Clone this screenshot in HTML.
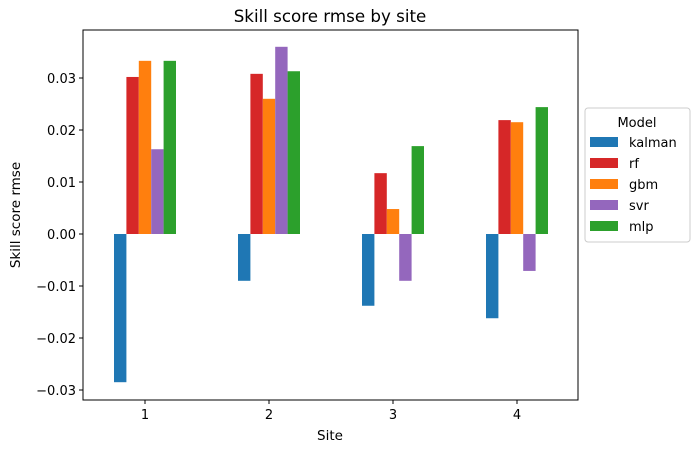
<!DOCTYPE html>
<html><head><meta charset="utf-8"><style>
body{margin:0;background:#fff;font-family:"Liberation Sans","DejaVu Sans",sans-serif}
</style></head><body>
<svg id="c" width="696" height="453" xmlns="http://www.w3.org/2000/svg" font-family="DejaVu Sans, Liberation Sans, sans-serif">
<text x="330" y="22" text-anchor="middle" font-size="16.7">Skill score rmse by site</text>
<g id="plot"></g>
<text x="330" y="440" text-anchor="middle" font-size="13.5">Site</text>
<text transform="translate(20,215) rotate(-90)" text-anchor="middle" font-size="13.5">Skill score rmse</text>
<g id="legend"></g>
</svg>
<script>
const sites=["1","2","3","4"];
const models=["kalman","rf","gbm","svr","mlp"];
const colors=["#1f77b4","#d62728","#ff7f0e","#9467bd","#2ca02c"];
const kalman=[-0.0285,-0.009,-0.0138,-0.0162];
const rf=[0.0302,0.0308,0.0117,0.0219];
const gbm=[0.0333,0.026,0.0048,0.0215];
const svr=[0.0163,0.036,-0.009,-0.0071];
const mlp=[0.0333,0.0313,0.0169,0.0244];
const yTicks=[-0.03,-0.02,-0.01,0,0.01,0.02,0.03];
const series=[kalman,rf,gbm,svr,mlp];
const NS="http://www.w3.org/2000/svg";
const L=83,R=578,T=30,B=400;
const y=v=>234-v*5200;
const x=i=>145+i*124;
const g=document.getElementById('plot');
function mk(t,a,p){const e=document.createElementNS(NS,t);for(const k in a)e.setAttribute(k,a[k]);(p||g).appendChild(e);return e;}
series.forEach((s,m)=>{s.forEach((v,i)=>{const bw=12.4;const cx=x(i)+(m-2)*bw;
const r=mk('rect',{x:cx-bw/2,y:Math.min(y(v),y(0)),width:bw,height:Math.abs(y(v)-y(0)),fill:colors[m]});

});});
mk('rect',{x:L,y:T,width:R-L,height:B-T,fill:'none',stroke:'#000','stroke-width':1});
yTicks.forEach(t=>{mk('line',{x1:L-4,x2:L,y1:y(t),y2:y(t),stroke:'#000'});
const tx=mk('text',{x:L-7,y:y(t)+5,'text-anchor':'end','font-size':13});tx.textContent=t.toFixed(2).replace('-','\u2212');

});
sites.forEach((s,i)=>{mk('line',{x1:x(i),x2:x(i),y1:B,y2:B+4,stroke:'#000'});
const tx=mk('text',{x:x(i),y:B+19,'text-anchor':'middle','font-size':13});tx.textContent=s;

});
const lg=document.getElementById('legend');
mk('rect',{x:585,y:108,width:105,height:134,fill:'#fff',stroke:'#ccc',rx:3},lg);
const lt=mk('text',{x:637,y:127,'text-anchor':'middle','font-size':13},lg);lt.textContent='Model';
models.forEach((m,k)=>{const yy=137+k*21;
mk('rect',{x:590,y:yy,width:28,height:10,fill:colors[k]},lg);
const t=mk('text',{x:629,y:yy+10,'font-size':13},lg);t.textContent=m;

});
</script>
</body></html>
